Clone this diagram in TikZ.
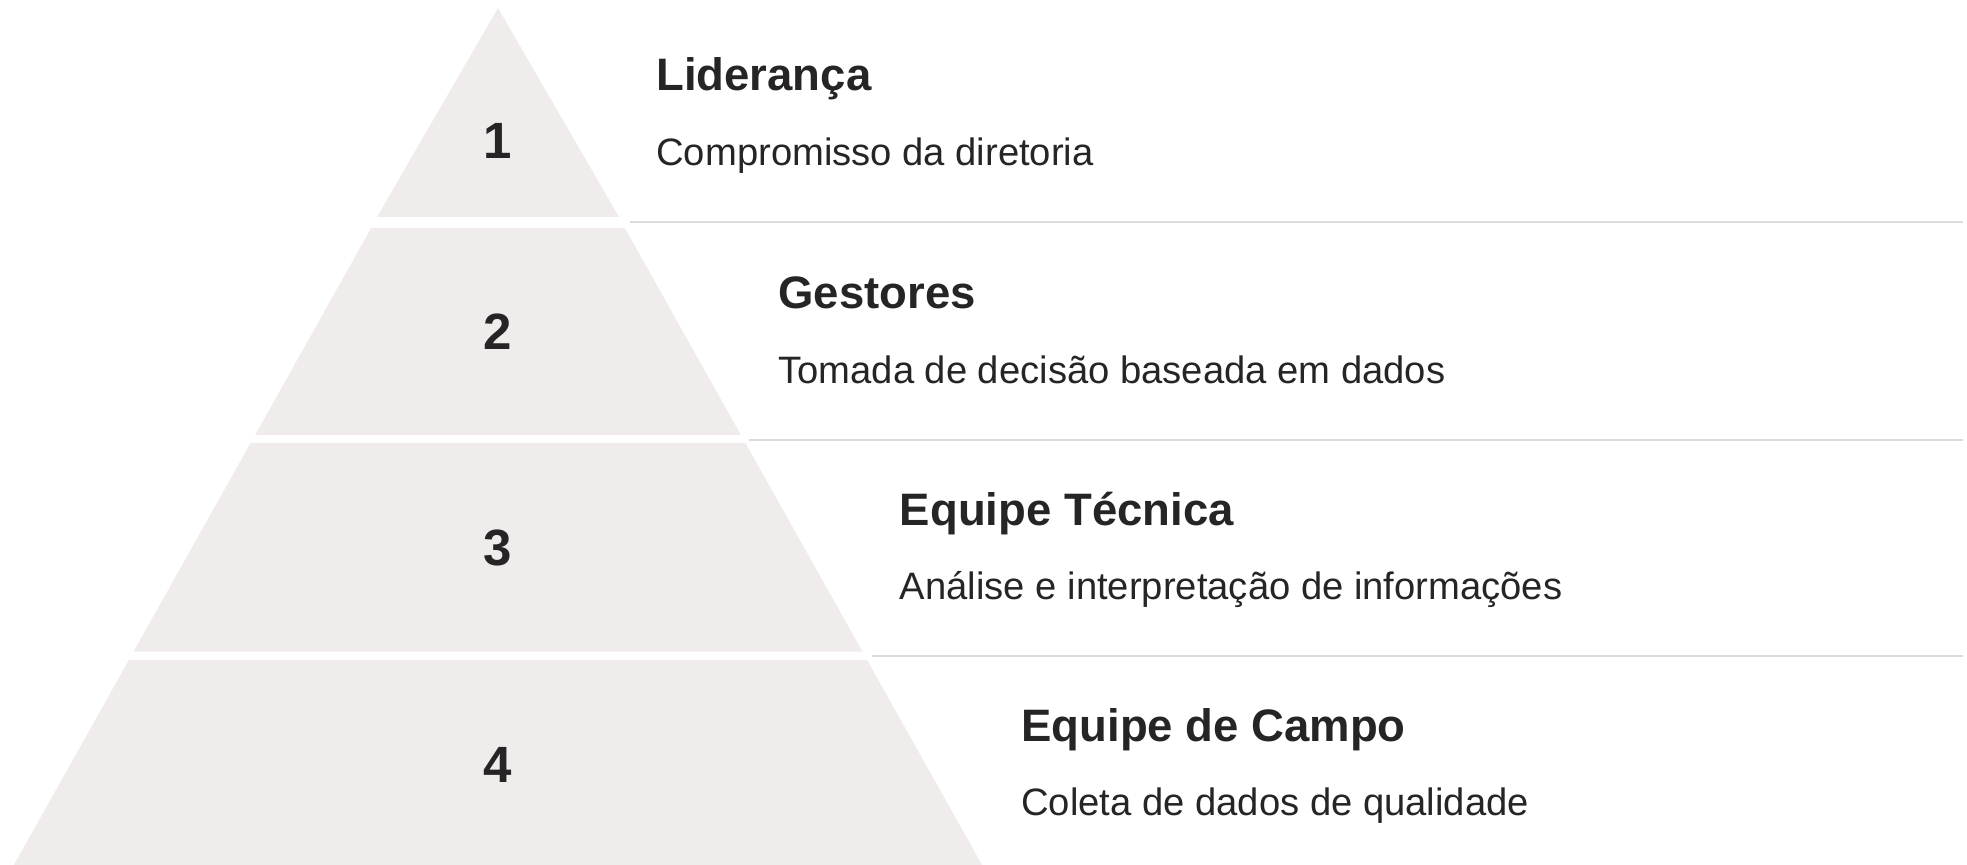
\documentclass[tikz,border=0pt]{standalone}
\usepackage{fontspec}
\setmainfont{Liberation Sans}
\definecolor{tierfill}{HTML}{EFECEB}
\definecolor{ink}{HTML}{262424}
\definecolor{rulegray}{HTML}{DCDCDC}
\tikzset{
  tier/.style={fill=tierfill, draw=none},
  num/.style={inner sep=0pt, text=ink, font=\fontsize{25.5}{30}\selectfont\bfseries},
  ttl/.style={inner sep=0pt, anchor=base west, text=ink, font=\fontsize{22.75}{27}\selectfont\bfseries},
  sub/.style={inner sep=0pt, anchor=base west, text=ink, font=\fontsize{19.1}{23}\selectfont},
  sep/.style={draw=rulegray, line width=0.9pt}
}
\begin{document}
\begin{tikzpicture}[x=0.5pt,y=-0.5pt]
\useasboundingbox (0,0) rectangle (1967,865);
% tiers
\fill[tier] (498,8) -- (619,217) -- (377,217) -- cycle;
\fill[tier] (371.2,228) -- (624.8,228) -- (740.9,435) -- (255.1,435) -- cycle;
\fill[tier] (250.6,443) -- (745.4,443) -- (862.5,651.7) -- (133.5,651.7) -- cycle;
\fill[tier] (128.9,660) -- (867.1,660) -- (982.1,865) -- (13.9,865) -- cycle;
% numbers
\node[num] (n1) at (498,141) {1};
\node[num] (n2) at (498,332) {2};
\node[num] (n3) at (498,548) {3};
\node[num] (n4) at (498,765) {4};
% separators
\coordinate (s1a) at (630,222); \coordinate (s1b) at (1963,222);
\coordinate (s2a) at (749,440); \coordinate (s2b) at (1963,440);
\coordinate (s3a) at (872,656); \coordinate (s3b) at (1963,656);
\draw[sep] (s1a) -- (s1b);
\draw[sep] (s2a) -- (s2b);
\draw[sep] (s3a) -- (s3b);
% labels
\node[ttl] (t1) at (656,91) {Liderança};
\node[sub] (d1) at (656,166) {Compromisso da diretoria};
\node[ttl] (t2) at (778,309) {Gestores};
\node[sub] (d2) at (778,384) {Tomada de decisão baseada em dados};
\node[ttl] (t3) at (899.5,526) {Equipe Técnica};
\node[sub] (d3) at (899.5,600) {Análise e interpretação de informações};
\node[ttl] (t4) at (1021,741.5) {Equipe de Campo};
\node[sub] (d4) at (1021,816) {Coleta de dados de qualidade};
\end{tikzpicture}
\end{document}
